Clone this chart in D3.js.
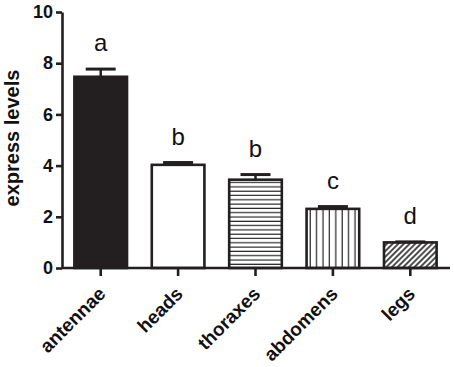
<!DOCTYPE html>
<html>
<head>
<meta charset="utf-8">
<script src="https://cdn.jsdelivr.net/npm/d3@7"></script>
<style>
  body { margin: 0; background: #fff; }
  svg { display: block; font-family: "Liberation Sans", Arial, sans-serif; }
</style>
</head>
<body>
<div id="viz"></div>
<script>
const tissues = ["antennae", "heads", "thoraxes", "abdomens", "legs"];
const levels = [7.47, 4.03, 3.45, 2.31, 1.0];
const errors = [0.3, 0.09, 0.2, 0.09, 0.02];
const letters = ["a", "b", "b", "c", "d"];
const fills = ["solid", "white", "hlines", "vlines", "diag"];
const yTicks = [0, 2, 4, 6, 8, 10];

const width = 454;
const height = 367;

const svg = d3.select("#viz")
    .append("svg")
    .attr("width", width)
    .attr("height", height);

// hatch patterns
const defs = svg.append("defs");
defs.append("pattern")
    .attr("id", "hlines")
    .attr("patternUnits", "userSpaceOnUse")
    .attr("width", 10).attr("height", 4.3)
  .append("line")
    .attr("x1", 0).attr("x2", 10).attr("y1", 2).attr("y2", 2)
    .attr("stroke", "#222").attr("stroke-width", 1.2);
defs.append("pattern")
    .attr("id", "vlines")
    .attr("patternUnits", "userSpaceOnUse")
    .attr("width", 6.4).attr("height", 10)
  .append("line")
    .attr("x1", 3).attr("x2", 3).attr("y1", 0).attr("y2", 10)
    .attr("stroke", "#222").attr("stroke-width", 1.2);
defs.append("pattern")
    .attr("id", "diag")
    .attr("patternUnits", "userSpaceOnUse")
    .attr("width", 4).attr("height", 4)
    .attr("patternTransform", "rotate(45)")
  .append("line")
    .attr("x1", 2).attr("x2", 2).attr("y1", 0).attr("y2", 4)
    .attr("stroke", "#111").attr("stroke-width", 1.5);

const fillOf = f => f === "solid" ? "#231f20" : f === "white" ? "#fff" : `url(#${f})`;

const x = d3.scaleBand()
    .domain(tissues)
    .range([62, 449])
    .paddingInner(0.32)
    .paddingOuter(0.16);

const y = d3.scaleLinear()
    .domain([0, 10])
    .range([268, 12]);

const data = tissues.map((t, i) => ({
    t, v: levels[i], e: errors[i], l: letters[i], f: fills[i]
}));

// error bars (drawn under bars so only the upper half shows)
const eb = svg.append("g");
eb.selectAll("line.stem").data(data).enter().append("line")
    .attr("x1", d => x(d.t) + x.bandwidth() / 2)
    .attr("x2", d => x(d.t) + x.bandwidth() / 2)
    .attr("y1", d => y(d.v))
    .attr("y2", d => y(d.v + d.e))
    .attr("stroke", "#231f20").attr("stroke-width", 2.5);
eb.selectAll("line.cap").data(data).enter().append("line")
    .attr("x1", d => x(d.t) + x.bandwidth() / 2 - 15)
    .attr("x2", d => x(d.t) + x.bandwidth() / 2 + 15)
    .attr("y1", d => y(d.v + d.e))
    .attr("y2", d => y(d.v + d.e))
    .attr("stroke", "#231f20").attr("stroke-width", 3);

svg.append("g").selectAll("rect").data(data).enter().append("rect")
    .attr("x", d => x(d.t))
    .attr("y", d => y(d.v))
    .attr("width", x.bandwidth())
    .attr("height", d => y(0) - y(d.v))
    .attr("fill", d => fillOf(d.f))
    .attr("stroke", "#231f20")
    .attr("stroke-width", 2.6);

// significance letters
svg.append("g").selectAll("text").data(data).enter().append("text")
    .attr("x", d => x(d.t) + x.bandwidth() / 2)
    .attr("y", d => y(d.v + d.e) - 18)
    .attr("text-anchor", "middle")
    .attr("font-size", 24)
    .attr("fill", "#111")
    .text(d => d.l);

// y axis
const yAxis = svg.append("g")
    .attr("transform", "translate(62,0)")
    .call(d3.axisLeft(y).tickValues(yTicks).tickSize(6).tickPadding(3).tickSizeOuter(0));
yAxis.select(".domain").attr("stroke", "#231f20").attr("stroke-width", 2.6);
yAxis.selectAll(".tick line").attr("stroke", "#231f20").attr("stroke-width", 2.6);
yAxis.selectAll(".tick text")
    .attr("font-size", 18).attr("font-weight", "bold").attr("fill", "#111")
    .attr("font-family", "Liberation Sans, Arial, sans-serif");

// x axis
const xAxis = svg.append("g")
    .attr("transform", "translate(0,268)")
    .call(d3.axisBottom(x).tickSize(8).tickSizeOuter(0));
xAxis.select(".domain").attr("stroke", "#231f20").attr("stroke-width", 2.6)
    .attr("d", "M62,0H450");
xAxis.selectAll(".tick line").attr("stroke", "#231f20").attr("stroke-width", 2.6);
xAxis.selectAll(".tick text")
    .attr("x", 0).attr("y", 0).attr("dy", 0)
    .attr("transform", "translate(6,27) rotate(-45)")
    .attr("text-anchor", "end")
    .attr("font-size", 19).attr("font-weight", "bold").attr("fill", "#111")
    .attr("font-family", "Liberation Sans, Arial, sans-serif");

svg.append("text")
    .attr("transform", "translate(19,138) rotate(-90)")
    .attr("text-anchor", "middle")
    .attr("font-size", 20)
    .attr("font-weight", "bold")
    .attr("fill", "#111")
    .text("express levels");
</script>
</body>
</html>
